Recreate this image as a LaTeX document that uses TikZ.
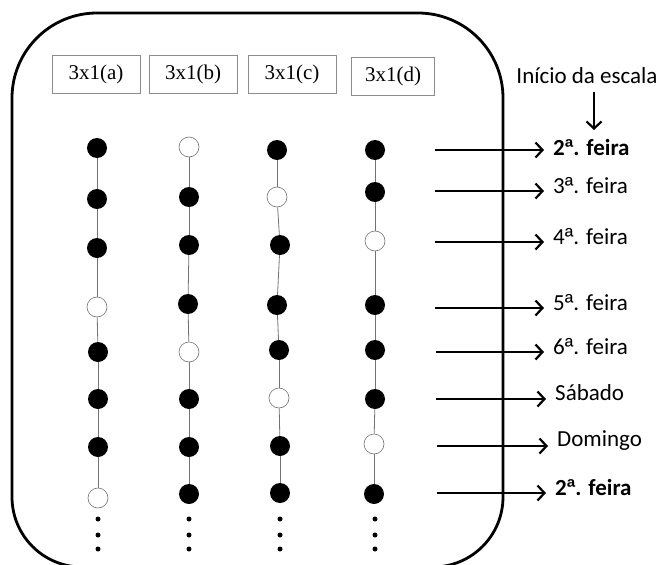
\documentclass[tikz,border=0pt]{standalone}
\usepackage{fontspec}
\setmainfont{Carlito}
\newfontfamily\tnr{Liberation Serif}
\newfontfamily\ordf{Liberation Sans}
\newcommand{\oa}{{\ordf ª}}
\usetikzlibrary{arrows.meta}
\begin{document}
\begin{tikzpicture}[x=1pt,y=-1pt,
 fr/.style={line width=2.8pt},
 lab/.style={draw=black!45, line width=0.8pt, minimum width=88pt, minimum height=38pt, inner sep=0pt, font=\tnr\fontsize{21}{24}\selectfont},
 fd/.style={circle, fill=black, minimum size=20pt, inner sep=0pt},
 od/.style={circle, draw=black!55, line width=0.6pt, fill=white, minimum size=20pt, inner sep=0pt},
 ed/.style={circle, fill=black, minimum size=5pt, inner sep=0pt},
 link/.style={draw=black!55, line width=0.8pt},
 arr/.style={line width=1.2pt, -{Straight Barb[length=7pt, width=15pt, line width=2.2pt]}},
 day/.style={anchor=west, inner sep=0pt, font=\fontsize{23}{27}\selectfont}]
\useasboundingbox (0,0) rectangle (662,565);
\clip (0,0) rectangle (662,565);
% frame
\draw[fr] (12,98) arc(180:270:85) -- (418,13) arc(270:360:85) -- (503,497)
  arc(0:90:70) -- (82,567) arc(90:180:70) -- cycle;
% header boxes
\node[lab] (ha) at (96,74) {3x1(a)};
\node[lab] (hb) at (193,74) {3x1(b)};
\node[lab] (hc) at (292,74) {3x1(c)};
\node[lab, minimum width=83pt] (hd) at (393,76) {3x1(d)};
% column a
\node[fd] (a1) at (97,148) {};
\node[fd] (a2) at (97,199) {};
\node[fd] (a3) at (97,248) {};
\node[od] (a4) at (97,307) {};
\node[fd] (a5) at (98,352) {};
\node[fd] (a6) at (98,399) {};
\node[fd] (a7) at (98,447) {};
\node[od] (a8) at (98,498) {};
% column b
\node[od] (b1) at (189,147) {};
\node[fd] (b2) at (189,197) {};
\node[fd] (b3) at (189,245) {};
\node[fd] (b4) at (188,304) {};
\node[od] (b5) at (189,352) {};
\node[fd] (b6) at (189,399) {};
\node[fd] (b7) at (189,447) {};
\node[fd] (b8) at (189,494) {};
% column c
\node[fd] (c1) at (277,150) {};
\node[od] (c2) at (277,197) {};
\node[fd] (c3) at (280,245) {};
\node[fd] (c4) at (277,305) {};
\node[fd] (c5) at (279,350) {};
\node[od] (c6) at (279,398) {};
\node[fd] (c7) at (280,446) {};
\node[fd] (c8) at (280,493) {};
% column d
\node[fd] (d1) at (375,150) {};
\node[fd] (d2) at (375,192) {};
\node[od] (d3) at (375,241) {};
\node[fd] (d4) at (375,305) {};
\node[fd] (d5) at (375,350) {};
\node[fd] (d6) at (375,399) {};
\node[od] (d7) at (374,444) {};
\node[fd] (d8) at (374,494) {};
% links
\foreach \c in {a,b,c,d}{
  \foreach \i [evaluate=\i as \j using int(\i+1)] in {1,...,7}{
    \draw[link] (\c\i) -- (\c\j);
  }
}
% ellipsis dots
\foreach \c/\x in {a/98,b/189,c/280,d/375}{
  \node[ed] (\c e1) at (\x,519) {};
  \node[ed] (\c e2) at (\x,535) {};
  \node[ed] (\c e3) at (\x,549) {};
}
% day labels
\node[day] (l1) at (553,148) {\bfseries 2\oa. feira};
\node[day] (l2) at (553,186) {3\oa. feira};
\node[day] (l3) at (553,237) {4\oa. feira};
\node[day] (l4) at (553,303) {5\oa. feira};
\node[day] (l5) at (553,347) {6\oa. feira};
\node[day] (l6) at (555,393) {Sábado};
\node[day] (l7) at (557,441) {Domingo};
\node[day] (l8) at (555,488) {\bfseries 2\oa. feira};
% arrow starts
\coordinate (s1) at (435,150);
\coordinate (s2) at (435,191);
\coordinate (s3) at (435,242);
\coordinate (s4) at (435,308);
\coordinate (s5) at (436,352);
\coordinate (s6) at (436,399);
\coordinate (s7) at (437,446);
\coordinate (s8) at (437,493);
\foreach \i in {1,...,8}{
  \draw[arr, shorten >=9pt] (s\i) -- (s\i -| l\i.west);
}
% start of scale
\node[inner sep=0pt, font=\fontsize{23}{27}\selectfont] (inicio) at (587,76) {Início da escala};
\coordinate (dn) at (594,130);
\draw[arr] (dn |- 92,92) -- (dn);
\end{tikzpicture}
\end{document}
